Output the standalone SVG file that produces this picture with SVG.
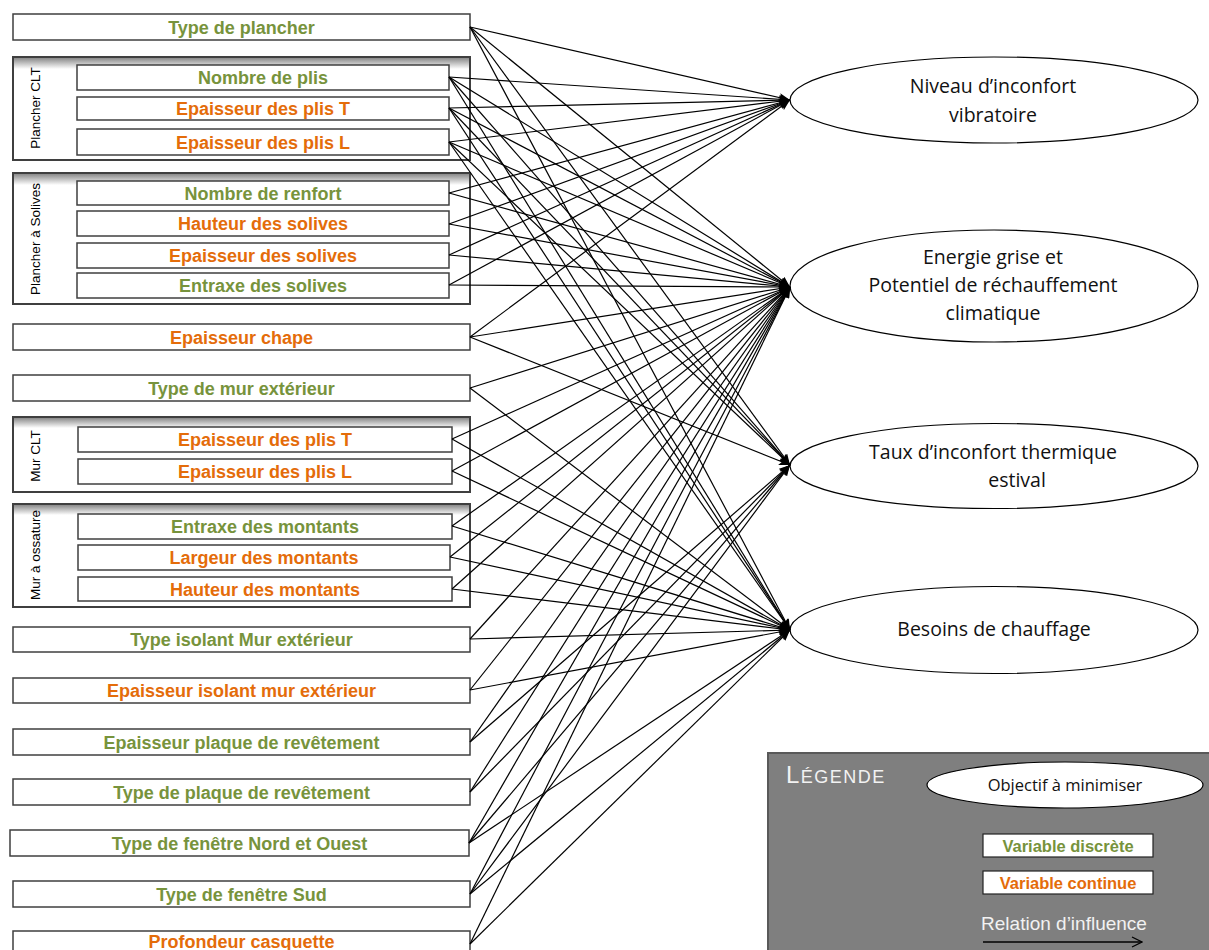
<svg xmlns="http://www.w3.org/2000/svg" width="1209" height="950" viewBox="0 0 1209 950">
<style>
.box{fill:#fff;stroke:#3f3f3f;stroke-width:1.5}
.grp{fill:#fff;stroke:#3f3f3f;stroke-width:2}
.v{font-family:"Liberation Sans",Arial,sans-serif;font-weight:bold;font-size:18px;text-anchor:middle}
.g{fill:#77933C}
.o{fill:#E46C0A}
.lbl{font-family:"Liberation Sans",Arial,sans-serif;font-size:13.5px;fill:#000;text-anchor:middle}
.obj{fill:#fff;stroke:#000;stroke-width:1.2}
.ot{font-family:"Open Sans","Liberation Sans",sans-serif;font-size:19.5px;fill:#111;text-anchor:middle}
.c line{stroke:#000;stroke-width:1.2;marker-end:url(#ah)}
.lt{font-family:"Liberation Sans",Arial,sans-serif;font-weight:bold;font-size:16.5px;text-anchor:middle}
</style>
<defs>
<marker id="ah" markerUnits="userSpaceOnUse" markerWidth="11" markerHeight="9" refX="11" refY="4.5" orient="auto"><path d="M0,0 L11,4.5 L0,9 L2.5,4.5 z" fill="#000"/></marker>
<marker id="oa" markerUnits="userSpaceOnUse" markerWidth="12" markerHeight="12" refX="11" refY="6" orient="auto"><path d="M1,1 L11,6 L1,11" fill="none" stroke="#000" stroke-width="1.3"/></marker>
<linearGradient id="shade" x1="0" y1="0" x2="0" y2="1"><stop offset="0" stop-color="#8a8a8a"/><stop offset="1" stop-color="#fff"/></linearGradient>
</defs>
<rect width="1209" height="950" fill="#fff"/>

<g id="n-type-plancher"><rect class="box" x="13" y="14" width="457" height="26"/><text class="v g" x="241.5" y="33.5">Type de plancher</text></g>

<g id="grp-plancher-clt"><rect class="grp" x="13" y="57" width="457" height="103"/><rect x="14" y="58" width="455" height="11" fill="url(#shade)"/><text class="lbl" transform="translate(40,108) rotate(-90)">Plancher CLT</text></g>
<g id="n-nb-plis"><rect class="box" x="77" y="65" width="372" height="25"/><text class="v g" x="263" y="84">Nombre de plis</text></g>
<g id="n-plis-t"><rect class="box" x="77" y="97" width="372" height="23"/><text class="v o" x="263" y="115">Epaisseur des plis T</text></g>
<g id="n-plis-l"><rect class="box" x="77" y="129" width="372" height="26"/><text class="v o" x="263" y="148.5">Epaisseur des plis L</text></g>

<g id="grp-plancher-solives"><rect class="grp" x="13" y="173" width="457" height="131"/><rect x="14" y="174" width="455" height="11" fill="url(#shade)"/><text class="lbl" transform="translate(40,239) rotate(-90)">Plancher à Solives</text></g>
<g id="n-renfort"><rect class="box" x="77" y="181" width="372" height="24"/><text class="v g" x="263" y="199.5">Nombre de renfort</text></g>
<g id="n-hauteur-solives"><rect class="box" x="77" y="211" width="372" height="25"/><text class="v o" x="263" y="230">Hauteur des solives</text></g>
<g id="n-ep-solives"><rect class="box" x="77" y="243" width="372" height="25"/><text class="v o" x="263" y="261.5">Epaisseur des solives</text></g>
<g id="n-entraxe-solives"><rect class="box" x="77" y="273" width="372" height="25"/><text class="v g" x="263" y="292">Entraxe des solives</text></g>

<g id="n-chape"><rect class="box" x="13" y="324" width="457" height="26"/><text class="v o" x="241.5" y="343.5">Epaisseur chape</text></g>
<g id="n-type-mur"><rect class="box" x="13" y="375" width="457" height="26"/><text class="v g" x="241.5" y="394.5">Type de mur extérieur</text></g>

<g id="grp-mur-clt"><rect class="grp" x="13" y="417" width="457" height="75"/><rect x="14" y="418" width="455" height="10" fill="url(#shade)"/><text class="lbl" transform="translate(40,456) rotate(-90)">Mur CLT</text></g>
<g id="n-mur-plis-t"><rect class="box" x="78" y="427" width="374" height="25"/><text class="v o" x="265" y="446">Epaisseur des plis T</text></g>
<g id="n-mur-plis-l"><rect class="box" x="78" y="459" width="374" height="25"/><text class="v o" x="265" y="478">Epaisseur des plis L</text></g>

<g id="grp-mur-ossature"><rect class="grp" x="13" y="504" width="457" height="103"/><rect x="14" y="505" width="455" height="10" fill="url(#shade)"/><text class="lbl" transform="translate(40,555) rotate(-90)">Mur à ossature</text></g>
<g id="n-entraxe-montants"><rect class="box" x="78" y="514" width="374" height="25"/><text class="v g" x="265" y="533">Entraxe des montants</text></g>
<g id="n-largeur-montants"><rect class="box" x="78" y="545" width="372" height="25"/><text class="v o" x="264" y="564">Largeur des montants</text></g>
<g id="n-hauteur-montants"><rect class="box" x="78" y="577" width="374" height="24"/><text class="v o" x="265" y="595.5">Hauteur des montants</text></g>

<g id="n-type-isolant"><rect class="box" x="13" y="627" width="457" height="25"/><text class="v g" x="241.5" y="646">Type isolant Mur extérieur</text></g>
<g id="n-ep-isolant"><rect class="box" x="13" y="678" width="457" height="25"/><text class="v o" x="241.5" y="697">Epaisseur isolant mur extérieur</text></g>
<g id="n-ep-plaque"><rect class="box" x="13" y="729" width="457" height="26"/><text class="v g" x="241.5" y="748.5">Epaisseur plaque de revêtement</text></g>
<g id="n-type-plaque"><rect class="box" x="13" y="779" width="457" height="26"/><text class="v g" x="241.5" y="798.5">Type de plaque de revêtement</text></g>
<g id="n-fenetre-no"><rect class="box" x="10" y="830" width="459" height="26"/><text class="v g" x="239.5" y="849.5">Type de fenêtre Nord et Ouest</text></g>
<g id="n-fenetre-sud"><rect class="box" x="13" y="881" width="457" height="26"/><text class="v g" x="241.5" y="900.5">Type de fenêtre Sud</text></g>
<g id="n-casquette"><rect class="box" x="13" y="931" width="457" height="26"/><text class="v o" x="241.5" y="947.5">Profondeur casquette</text></g>

<g id="o-vibratoire"><ellipse class="obj" cx="994" cy="100" rx="204" ry="43"/><text class="ot" x="993" y="93">Niveau d’inconfort</text><text class="ot" x="993" y="122">vibratoire</text></g>
<g id="o-energie"><ellipse class="obj" cx="994" cy="286" rx="204" ry="56"/><text class="ot" x="993" y="264">Energie grise et</text><text class="ot" x="993" y="292">Potentiel de réchauffement</text><text class="ot" x="993" y="320">climatique</text></g>
<g id="o-thermique"><ellipse class="obj" cx="994" cy="466" rx="204" ry="42.5"/><text class="ot" x="993" y="459">Taux d’inconfort thermique</text><text class="ot" x="1017" y="487">estival</text></g>
<g id="o-chauffage"><ellipse class="obj" cx="994" cy="630" rx="204" ry="43.5"/><text class="ot" x="994" y="636">Besoins de chauffage</text></g>

<g id="legende">
<rect x="768" y="753" width="460" height="220" fill="#7f7f7f" stroke="#595959" stroke-width="2"/>
<text x="786" y="783" font-family="Liberation Sans,Arial,sans-serif" fill="#f2f2f2" letter-spacing="1.5"><tspan font-size="24">L</tspan><tspan font-size="18">ÉGENDE</tspan></text>
<ellipse cx="1065" cy="785" rx="138" ry="23" fill="#fff" stroke="#000" stroke-width="1.2"/>
<text x="1065" y="791" font-family="Open Sans,Liberation Sans,sans-serif" font-size="16.5" fill="#111" text-anchor="middle">Objectif à minimiser</text>
<rect x="983" y="834" width="170" height="23" fill="#fff" stroke="#222" stroke-width="1.2"/>
<text class="lt g" x="1068" y="851.5">Variable discrète</text>
<rect x="983" y="871" width="170" height="23" fill="#fff" stroke="#222" stroke-width="1.2"/>
<text class="lt o" x="1068" y="888.5">Variable continue</text>
<text x="1064" y="930" font-family="Liberation Sans,Arial,sans-serif" font-size="19" fill="#f2f2f2" text-anchor="middle">Relation d’influence</text>
<line x1="983" y1="942" x2="1142" y2="942" stroke="#000" stroke-width="1.3" marker-end="url(#oa)"/>
</g>

<g id="connecteurs" class="c">
<line x1="470" y1="27" x2="790" y2="100"/><line x1="470" y1="27" x2="790" y2="287"/><line x1="470" y1="27" x2="790" y2="465"/><line x1="470" y1="27" x2="790" y2="630"/>
<line x1="449" y1="77" x2="790" y2="100"/><line x1="449" y1="77" x2="790" y2="287"/><line x1="449" y1="77" x2="790" y2="465"/><line x1="449" y1="77" x2="790" y2="630"/>
<line x1="449" y1="108" x2="790" y2="100"/><line x1="449" y1="108" x2="790" y2="287"/><line x1="449" y1="108" x2="790" y2="465"/><line x1="449" y1="108" x2="790" y2="630"/>
<line x1="449" y1="142" x2="790" y2="100"/><line x1="449" y1="142" x2="790" y2="287"/><line x1="449" y1="142" x2="790" y2="465"/><line x1="449" y1="142" x2="790" y2="630"/>
<line x1="449" y1="193" x2="790" y2="100"/><line x1="449" y1="193" x2="790" y2="287"/>
<line x1="449" y1="224" x2="790" y2="100"/><line x1="449" y1="224" x2="790" y2="287"/>
<line x1="449" y1="255" x2="790" y2="100"/><line x1="449" y1="255" x2="790" y2="287"/>
<line x1="449" y1="285" x2="790" y2="100"/><line x1="449" y1="285" x2="790" y2="287"/>
<line x1="470" y1="337" x2="790" y2="100"/><line x1="470" y1="337" x2="790" y2="287"/><line x1="470" y1="337" x2="790" y2="465"/>
<line x1="470" y1="388" x2="790" y2="287"/><line x1="470" y1="388" x2="790" y2="630"/>
<line x1="452" y1="439" x2="790" y2="287"/><line x1="452" y1="439" x2="790" y2="630"/>
<line x1="452" y1="471" x2="790" y2="287"/><line x1="452" y1="471" x2="790" y2="630"/>
<line x1="452" y1="526" x2="790" y2="287"/><line x1="452" y1="526" x2="790" y2="630"/>
<line x1="450" y1="557" x2="790" y2="287"/><line x1="450" y1="557" x2="790" y2="630"/>
<line x1="452" y1="589" x2="790" y2="287"/><line x1="452" y1="589" x2="790" y2="630"/>
<line x1="470" y1="639" x2="790" y2="287"/><line x1="470" y1="639" x2="790" y2="630"/>
<line x1="470" y1="690" x2="790" y2="287"/><line x1="470" y1="690" x2="790" y2="630"/>
<line x1="470" y1="742" x2="790" y2="287"/><line x1="470" y1="742" x2="790" y2="465"/>
<line x1="470" y1="792" x2="790" y2="287"/><line x1="470" y1="792" x2="790" y2="465"/>
<line x1="469" y1="843" x2="790" y2="287"/><line x1="469" y1="843" x2="790" y2="465"/><line x1="469" y1="843" x2="790" y2="630"/>
<line x1="470" y1="894" x2="790" y2="287"/><line x1="470" y1="894" x2="790" y2="465"/><line x1="470" y1="894" x2="790" y2="630"/>
<line x1="470" y1="944" x2="790" y2="287"/><line x1="470" y1="944" x2="790" y2="630"/>
</g>
</svg>
